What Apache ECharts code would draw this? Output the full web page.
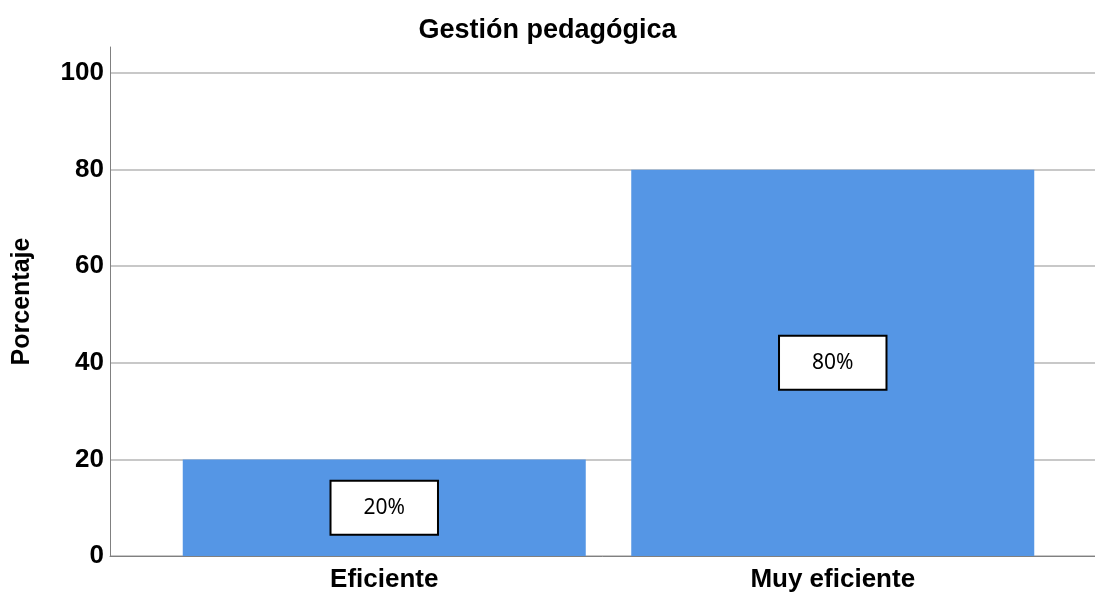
<!DOCTYPE html>
<html>
<head>
<meta charset="utf-8">
<script src="https://cdn.jsdelivr.net/npm/echarts@6/dist/echarts.min.js"></script>
<style>
  html, body { margin: 0; padding: 0; background: #fff; }
  #chart { width: 1095px; height: 596px; }
</style>
</head>
<body>
<div id="chart"></div>
<script>
// data
const categories = ['Eficiente', 'Muy eficiente'];
const percentages = [20, 80];
const y_ticks = [0, 20, 40, 60, 80, 100];

const y_max = 105.4;
const bar_color = '#5596e5';
const label_font = 'Liberation Sans, Arial, sans-serif';

let chart = echarts.init(document.getElementById('chart'));

let options = {
    animation: false,
    title: {
        text: 'Gestión pedagógica',
        left: 'center',
        top: 12,
        textStyle: {
            fontFamily: label_font,
            fontWeight: 'bold',
            fontSize: 27,
            color: '#000'
        }
    },
    // grid 0 = axes + gridlines, grid 1 = bars (inner padding like SPSS)
    grid: [
        { left: 110, right: 0, top: 47, bottom: 40, outerBoundsMode: 'none', containLabel: false },
        { left: 160, right: 38, top: 47, bottom: 40, outerBoundsMode: 'none', containLabel: false }
    ],
    xAxis: [
        {
            gridIndex: 0,
            type: 'value',
            min: 0,
            max: 1,
            axisLine: { show: true, onZero: false, lineStyle: { color: '#808080', width: 1 } },
            axisTick: { show: false },
            axisLabel: { show: false },
            splitLine: { show: false }
        },
        {
            gridIndex: 1,
            type: 'category',
            data: categories,
            axisLine: { show: false },
            axisTick: { show: false },
            axisLabel: {
                margin: 11,
                fontFamily: label_font,
                fontWeight: 'bold',
                fontSize: 26,
                color: '#000'
            }
        }
    ],
    yAxis: [
        {
            gridIndex: 0,
            type: 'value',
            min: 0,
            max: y_max,
            interval: 20,
            name: 'Porcentaje',
            nameLocation: 'middle',
            nameGap: 75,
            nameTextStyle: {
                fontFamily: label_font,
                fontWeight: 'bold',
                fontSize: 25,
                color: '#000'
            },
            axisLine: { show: true, lineStyle: { color: '#808080', width: 1 } },
            axisTick: { show: false },
            axisLabel: {
                margin: 6,
                fontFamily: label_font,
                fontWeight: 'bold',
                fontSize: 26,
                color: '#000',
                showMaxLabel: false,
                formatter: function (v) {
                    return y_ticks.indexOf(v) >= 0 ? v : '';
                }
            },
            splitLine: {
                show: true,
                showMaxLine: false,
                lineStyle: { color: '#c8c8c8', width: 2 }
            }
        },
        {
            gridIndex: 1,
            type: 'value',
            min: 0,
            max: y_max,
            show: false
        }
    ],
    series: [
        {
            type: 'bar',
            xAxisIndex: 1,
            yAxisIndex: 1,
            data: percentages,
            barWidth: 403,
            itemStyle: { color: bar_color },
            label: {
                show: true,
                position: 'inside',
                formatter: '{c}%',
                fontFamily: 'Noto Sans, sans-serif',
                fontSize: 21,
                color: '#000',
                backgroundColor: '#fff',
                borderColor: '#000',
                borderWidth: 2,
                padding: [16, 32, 15, 32]
            }
        }
    ]
};

chart.setOption(options);
</script>
</body>
</html>
